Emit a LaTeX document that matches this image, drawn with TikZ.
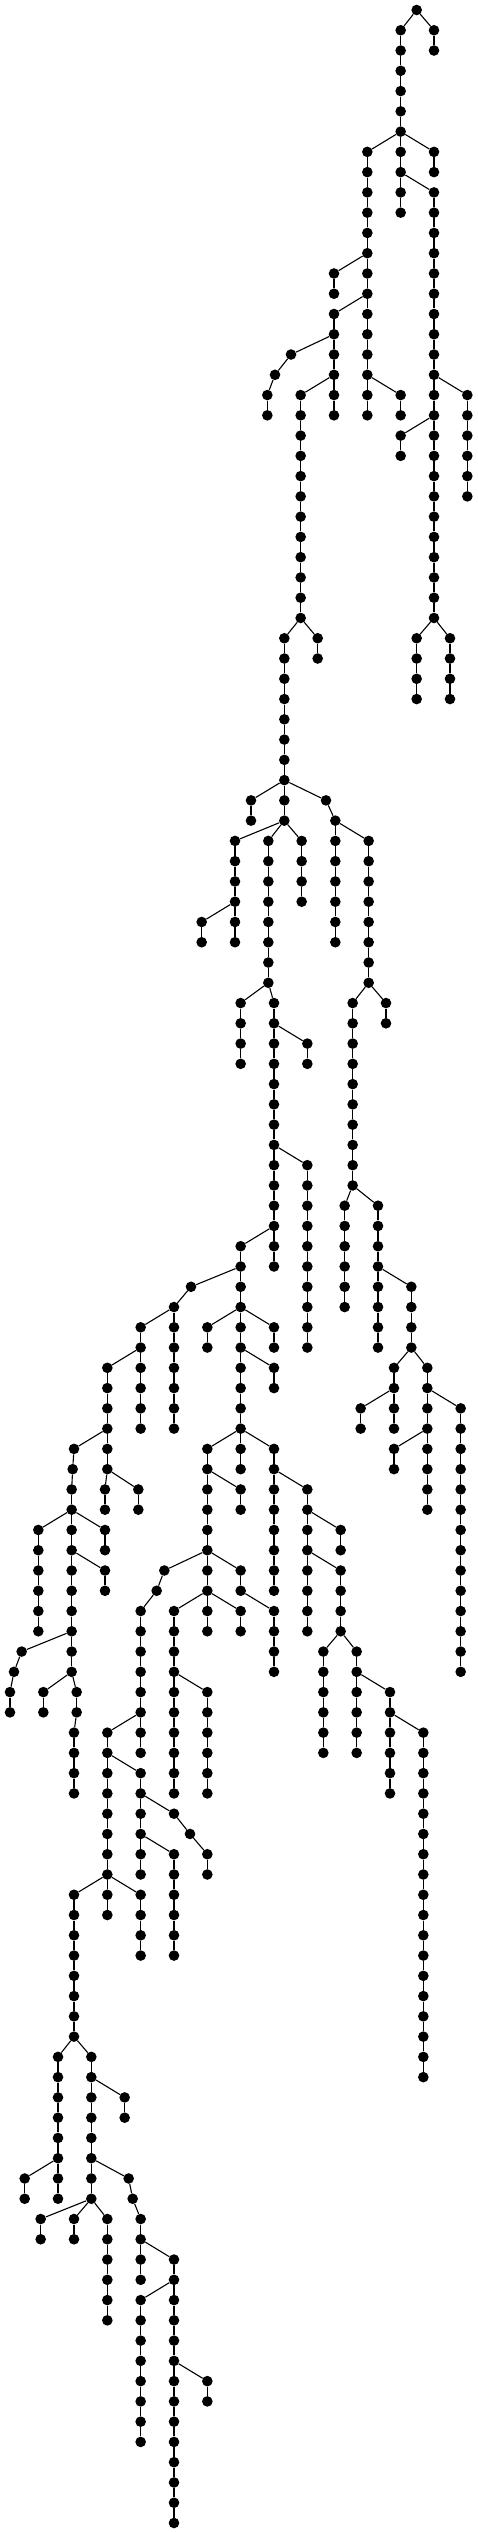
\documentclass[tikz,border=0pt]{standalone}
\begin{document}
\begin{tikzpicture}[x=1pt,y=-1pt,
  dot/.style={circle,fill=black,draw=none,inner sep=0pt,minimum size=10.6pt},
  link/.style={line width=1.1pt,black}]
\useasboundingbox (0,0) rectangle (478,2533);
% chains: column (x in 1/3 px) / first level / last level
\foreach \c/\a/\b in {1250/0/0,1302/1/2,1202/1/10,1302/7/8,1302/9/30,1102/7/20,
 1002/13/14,1002/15/20,873/17/17,825/18/18,802/19/20,1202/19/20,902/19/30,
 1402/19/24,1202/21/22,853/31/40,953/31/32,1250/31/34,1350/31/34,753/39/40,
 978/39/39,1006/40/46,1106/41/48,705/41/46,605/45/46,805/41/48,905/41/44,
 722/49/52,822/49/62,922/51/52,922/57/66,722/61/72,1058/49/58,1158/49/50,
 1034/59/64,1134/59/66,1234/63/66,1182/67/70,1082/69/70,1282/67/74,1382/69/82,
 1182/71/72,573/63/63,522/64/70,422/65/70,322/67/72,222/71/71,218/72/72,
 215/73/82,115/75/80,315/75/76,315/77/78,65/81/81,42/82/82,30/83/84,130/83/84,
 230/83/84,222/85/88,315/73/74,415/73/74,622/65/66,822/65/66,822/67/68,
 622/71/80,722/73/74,822/71/78,922/73/80,1022/75/76,1022/77/80,970/81/86,
 1070/81/86,1170/83/88,1270/85/102,493/77/77,470/78/78,422/79/86,322/85/94,
 422/87/92,522/89/89,570/90/90,622/91/92,522/91/96,222/93/100,422/93/96,
 722/77/78,822/79/82,522/79/88,622/83/88,722/79/80,174/101/108,74/107/108,
 274/101/108,374/103/104,386/107/107,398/108/108,422/109/112,522/111/124,
 422/113/120,622/117/118,122/109/110,222/109/110,322/109/114}{
  \foreach \l in {\a,...,\b}{
    \node[dot] (n\c-\l) at ({\c/3},{10+20.266*\l}) {};
    \ifnum\l>\a
      \pgfmathtruncatemacro\m{\l-1}
      \draw[link] (n\c-\m) -- (n\c-\l);
    \fi
  }
}
% branches: parent column / parent level / child column (child one level lower)
\foreach \p/\q/\r in {1250/0/1202,1250/0/1302,1202/6/1102,1202/6/1302,1202/8/1302,
 1102/12/1002,1102/14/1002,1002/16/873,873/17/825,825/18/802,1102/18/1202,
 1002/18/902,1302/18/1402,1302/20/1202,902/30/853,902/30/953,1302/30/1250,
 1302/30/1350,853/38/753,853/38/978,978/39/1006,1006/40/1106,853/40/705,
 853/40/805,853/40/905,705/44/605,805/48/722,805/48/822,1106/48/1058,
 1106/48/1158,822/50/922,822/56/922,822/60/722,1058/58/1034,1058/58/1134,
 1134/62/1234,1234/66/1182,1234/66/1282,1182/68/1082,1282/68/1382,1282/70/1182,
 722/62/573,573/63/522,522/64/422,422/66/322,322/70/222,222/71/218,218/72/215,
 215/74/115,215/74/315,215/76/315,215/80/65,65/81/42,42/82/30,215/82/130,
 215/82/230,230/84/222,322/72/315,322/72/415,722/64/622,722/64/822,722/66/822,
 722/70/622,722/70/822,622/72/722,822/72/922,922/74/1022,922/76/1022,
 1022/80/970,1022/80/1070,1070/82/1170,1170/84/1270,622/76/493,622/76/722,
 493/77/470,470/78/422,422/84/322,322/86/422,422/88/522,522/89/570,570/90/622,
 422/90/522,322/92/222,322/92/422,722/78/822,622/78/522,622/78/722,522/82/622,
 222/100/174,222/100/274,174/106/74,274/102/374,274/106/386,386/107/398,
 398/108/422,422/110/522,522/112/422,522/116/622,274/108/122,274/108/222,
 274/108/322}{
  \pgfmathtruncatemacro\s{\q+1}
  \draw[link] (n\p-\q) -- (n\r-\s);
}
\end{tikzpicture}
\end{document}
